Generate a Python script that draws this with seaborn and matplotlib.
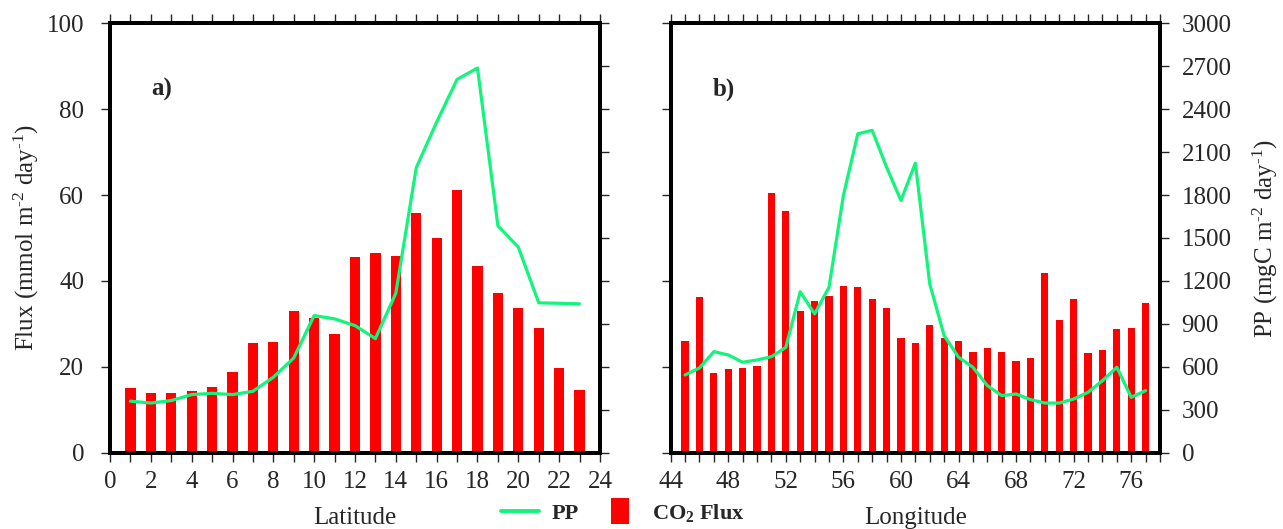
import numpy as np
import pandas as pd
import matplotlib
matplotlib.use("Agg")
import matplotlib.pyplot as plt
import seaborn as sns
from matplotlib.ticker import MultipleLocator
from matplotlib.lines import Line2D

# ---------------- data ----------------
latitude = list(range(1, 24))
flux_lat = [15.0, 13.8, 13.9, 14.3, 15.4, 18.8, 25.6, 25.7, 33.1, 31.3, 27.6, 45.5,
            46.5, 45.8, 55.9, 50.0, 61.1, 43.4, 37.2, 33.8, 29.0, 19.7, 14.5]
pp_lat = [360, 347, 364, 406, 415, 406, 429, 527, 662, 958, 935, 888, 797, 1114,
          1991, 2310, 2608, 2688, 1585, 1436, 1047, 1044, 1040]

longitude = list(range(45, 78))
flux_lon = [25.9, 36.2, 18.5, 19.4, 19.7, 20.1, 60.4, 56.3, 33.1, 35.4, 36.4, 38.9,
            38.6, 35.7, 33.7, 26.7, 25.6, 29.8, 26.7, 25.9, 23.5, 24.4, 23.5, 21.3,
            22.1, 41.9, 31.0, 35.8, 23.2, 23.9, 28.7, 29.0, 34.8]
pp_lon = [543, 592, 706, 683, 632, 648, 671, 736, 1124, 970, 1156, 1797, 2228, 2252,
          1995, 1762, 2023, 1180, 818, 667, 597, 469, 399, 410, 371, 347, 347, 375,
          422, 503, 597, 387, 434]

panel_labels = ["a)", "b)"]
x_labels = ["Latitude", "Longitude"]
flux_label = r"Flux (mmol m$^{\text{-2}}$ day$^{\text{-1}}$)"
pp_label = r"PP (mgC m$^{\text{-2}}$ day$^{\text{-1}}$)"
legend_labels = ["PP", r"CO$_\mathbf{2}$ Flux"]

BAR_COLOR = "#ff0000"
LINE_COLOR = "#12f57c"

# ---------------- style ----------------
sns.set_style("ticks")
plt.rcParams["font.family"] = ["Liberation Serif", "DejaVu Serif"]
plt.rcParams["mathtext.fontset"] = "custom"
plt.rcParams["mathtext.rm"] = "Liberation Serif"
plt.rcParams["mathtext.it"] = "Liberation Serif:italic"
plt.rcParams["mathtext.bf"] = "Liberation Serif:bold"
plt.rcParams["mathtext.default"] = "regular"

FS = 18
SPINE_W = 2.8

fig = plt.figure(figsize=(12.83, 5.29), dpi=100)
W, H = 1283, 529
axL = fig.add_axes([110 / W, (H - 452.7) / H, 490 / W, 429.4 / H])
axR = fig.add_axes([670.7 / W, (H - 452.7) / H, 489.3 / W, 429.4 / H])

panels = [
    (axL, latitude, flux_lat, pp_lat, (0, 24), 2, True, False),
    (axR, longitude, flux_lon, pp_lon, (44, 78), 4, False, True),
]

for i, (ax, xv, fv, pv, xlim, major, lab_left, lab_right) in enumerate(panels):
    df = pd.DataFrame({"x": xv, "flux": fv, "pp": pv})
    sns.barplot(data=df, x="x", y="flux", native_scale=True, color=BAR_COLOR,
                saturation=1, width=0.5, errorbar=None, linewidth=0, ax=ax)
    ax2 = ax.twinx()
    sns.lineplot(data=df, x="x", y="pp", color=LINE_COLOR, linewidth=2.3, ax=ax2)

    ax.set_xlim(*xlim)
    ax.set_ylim(0, 100)
    ax2.set_ylim(0, 3000)

    ax.xaxis.set_major_locator(MultipleLocator(major))
    ax.xaxis.set_minor_locator(MultipleLocator(1))
    ax.yaxis.set_major_locator(MultipleLocator(20))
    ax2.yaxis.set_major_locator(MultipleLocator(300))

    ax.tick_params(axis="x", which="both", direction="out", length=6.5, width=1.0,
                   top=True, bottom=True, labeltop=False, labelsize=FS, pad=7)
    ax.tick_params(axis="y", which="major", direction="out", length=6.5, width=1.0,
                   left=True, right=False, labelleft=lab_left, labelsize=FS, pad=12)
    ax2.tick_params(axis="y", which="major", direction="out", length=6.5, width=1.0,
                    right=True, left=False, labelright=lab_right, labelsize=FS, pad=9)

    for a in (ax, ax2):
        for s in a.spines.values():
            s.set_visible(True)
            s.set_linewidth(SPINE_W)
            s.set_color("black")

    ax.set_xlabel(x_labels[i], fontsize=FS, labelpad=10)
    if lab_left:
        ax.set_ylabel(flux_label, fontsize=FS, labelpad=4)
    else:
        ax.set_ylabel("")
    if lab_right:
        ax2.set_ylabel(pp_label, fontsize=FS, labelpad=14)
    else:
        ax2.set_ylabel("")

    ax.text(0.085, 0.847, panel_labels[i], transform=ax.transAxes, fontsize=FS,
            fontweight="bold", ha="left", va="center")

# ---------------- legend ----------------
rect = [(-0.667, -1), (0.667, -1), (0.667, 1), (-0.667, 1), (-0.667, -1)]
handles = [
    Line2D([], [], color=LINE_COLOR, linewidth=2.8),
    Line2D([], [], linestyle="none", marker=rect, markersize=19.4,
           markerfacecolor=BAR_COLOR, markeredgewidth=0),
]
fig.legend(handles, legend_labels, loc="center", bbox_to_anchor=(0.4855, 0.030),
           ncol=2, frameon=False, prop={"weight": "bold", "size": 16},
           handlelength=1.7, handletextpad=0.6, columnspacing=1.0,
           borderaxespad=0, borderpad=0)

fig.savefig("out.png", dpi=100)
